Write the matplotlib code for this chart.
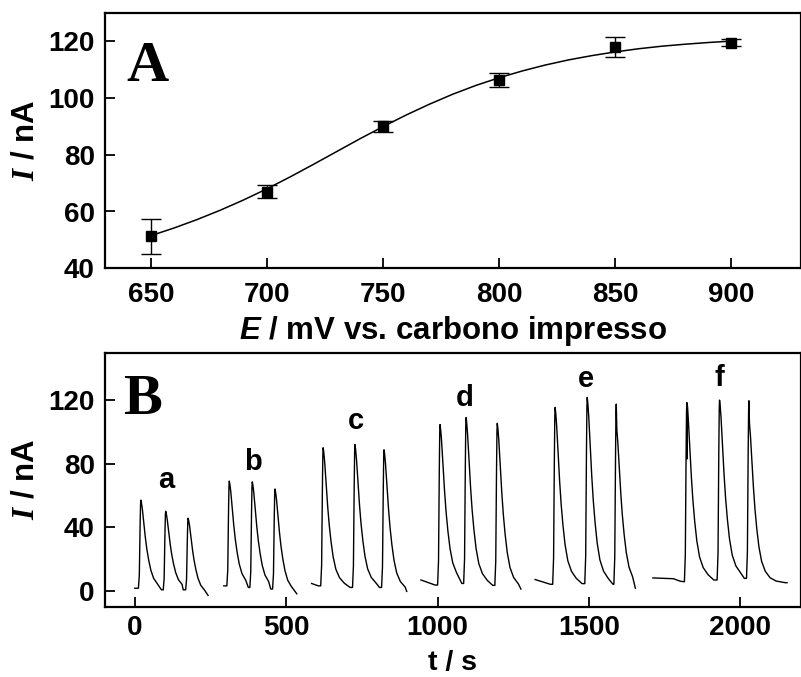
import matplotlib
matplotlib.use("Agg")
import matplotlib.pyplot as plt
import numpy as np

plt.rcParams['font.family'] = ['Liberation Sans', 'DejaVu Sans']
plt.rcParams['font.weight'] = 'bold'
plt.rcParams['mathtext.fontset'] = 'custom'
plt.rcParams['mathtext.it'] = 'Liberation Sans:italic:bold'
plt.rcParams['mathtext.bfit'] = 'Liberation Serif:italic:bold'
plt.rcParams['mathtext.rm'] = 'Liberation Sans:bold'

# ---------------- Panel A data ----------------
potential_mV = [650, 700, 750, 800, 850, 900]
current_nA = [51.2, 67.0, 90.0, 106.3, 118.0, 119.4]
current_err = [6.0, 2.4, 2.0, 2.5, 3.5, 1.3]

fit_E = [650, 660, 670, 680, 690, 700, 710, 720, 730, 740, 750, 760, 770,
         780, 790, 800, 810, 820, 830, 840, 850, 860, 870, 880, 890, 900]
fit_I = [51.5, 54.2, 57.2, 60.5, 64.1, 68.0, 72.2, 76.6, 81.1, 85.6, 89.9,
         94.0, 97.8, 101.3, 104.4, 107.1, 109.5, 111.6, 113.4, 114.9, 116.2,
         117.3, 118.2, 118.9, 119.5, 120.0]

xticks_A = [650, 700, 750, 800, 850, 900]
yticks_A = [40, 60, 80, 100, 120]

# ---------------- Panel B data ----------------
seg_labels = ['a', 'b', 'c', 'd', 'e', 'f']
label_t = [104, 389, 731, 1089, 1491, 1929]
label_I = [64.4, 75.8, 102, 116.4, 128, 129]

# leading baseline points of each segment (t, I)
seg_lead_t = [[0, 6], [294, 304], [584, 606, 613], [945, 992, 999],
              [1322, 1372, 1379], [1711, 1779, 1800, 1813]]
seg_lead_I = [[1.5, 1.5], [3, 3], [4.5, 3, 3], [6.7, 3.5, 3.5],
              [7, 4, 4], [8, 7.5, 6, 5.6]]
# peaks (time, height) and valley/end after each peak (time, level)
peak_t = [[20, 102, 176], [312, 388, 463], [622, 727, 823],
          [1008, 1094, 1197], [1388, 1494, 1590], [1823, 1931, 2028]]
peak_I = [[57, 50, 45.6], [69, 68.5, 64], [90, 92, 88.7],
          [104.6, 109, 105.4], [115.4, 121.7, 117.5], [118.5, 120, 119.6]]
valley_t = [[88, 160, 242], [375, 449, 535], [711, 808, 898],
            [1080, 1182, 1275], [1477, 1579, 1653], [1912, 2013, 2154]]
valley_I = [[0.5, 0.5, -3], [2, 1, -2], [2, 2, -0.5],
            [4.5, 3.3, 1], [4.4, 4, 1.5], [6.7, 7.7, 5]]
# level right after a sharp spike at the top (None = no spike)
spike_after = [[None, None, None], [None, None, None], [None, None, None],
               [None, None, None], [None, None, 104], [None, None, 108]]
# notch dip inside the peak top (None = no notch)
notch_I = [[None, None, None], [None, None, None], [None, None, None],
           [None, None, None], [None, None, None], [83, None, None]]

xticks_B = [0, 500, 1000, 1500, 2000]
yticks_B = [0, 40, 80, 120]

# transient shape (relative decay profile)
rise_dt = [-8, -5, -2.5, -1, 0]
rise_fr = [0.0, 0.15, 0.7, 0.95, 1.0]
decay_dt = [2, 5, 10, 15, 20, 26, 33, 42, 54, 70, 90, 120]
decay_fr = [0.97, 0.9, 0.74, 0.58, 0.45, 0.33, 0.22, 0.13, 0.07, 0.03, 0.01, 0.0]


def build_segment(i):
    ts = list(seg_lead_t[i])
    ys = list(seg_lead_I[i])
    base = ys[-1]
    for k in range(len(peak_t[i])):
        tp, h = peak_t[i][k], peak_I[i][k]
        te, be = valley_t[i][k], valley_I[i][k]
        for dt, fr in zip(rise_dt, rise_fr):
            t = tp + dt
            if t > ts[-1]:
                ts.append(t)
                ys.append(base + (h - base) * fr)
        top = h
        if notch_I[i][k] is not None:
            ts += [tp + 0.6, tp + 1.2, tp + 2.5]
            ys += [notch_I[i][k], h - 1, h - 3]
        if spike_after[i][k] is not None:
            ts.append(tp + 1.5)
            ys.append(spike_after[i][k])
            top = spike_after[i][k]
        for dt, fr in zip(decay_dt, decay_fr):
            t = tp + dt
            if t < te - 2 and t > ts[-1]:
                ts.append(t)
                ys.append(be + (top - be) * fr)
        ts.append(te)
        ys.append(be)
        base = be
    return ts, ys


W, H = 801, 677
fig = plt.figure(figsize=(W / 100, H / 100), dpi=100)

left = 104.5 / W
width = 1.0 - left
axA = fig.add_axes([left, 1 - 268.3 / H, width, (268.3 - 12.7) / H])
axB = fig.add_axes([left, 1 - 606.5 / H, width, (606.5 - 352.5) / H])

TICK_FS = 20
LAB_FS = 22.5

for ax in (axA, axB):
    for s in ax.spines.values():
        s.set_linewidth(1.6)
    ax.tick_params(direction='in', length=7, width=1.3, labelsize=TICK_FS,
                   top=False, right=False)
    ax.tick_params(axis='x', pad=10)
    ax.tick_params(axis='y', pad=7)
axB.tick_params(axis='x', pad=6)

# Panel A
axA.plot(fit_E, fit_I, color='black', lw=1.1)
axA.errorbar(potential_mV, current_nA, yerr=current_err, fmt='s', color='black',
             ms=7.5, capsize=7, elinewidth=1.0, capthick=1.0, ecolor='black')
axA.set_xlim(630, 930)
axA.set_ylim(40, 130)
axA.set_xticks(xticks_A)
axA.set_yticks(yticks_A)
axA.set_xticklabels([str(v) for v in xticks_A], fontweight='bold')
axA.set_yticklabels([str(v) for v in yticks_A], fontweight='bold')
axA.set_xlabel(r'$\mathit{E}$ / mV vs. carbono impresso', fontsize=LAB_FS,
               fontweight='bold', labelpad=4)
axA.set_ylabel(r'$\mathbfit{I}$ / nA', fontsize=LAB_FS, fontweight='bold', labelpad=6)
axA.text(126 / W, 1 - 81 / H, 'A', transform=fig.transFigure, fontsize=42,
         family='Liberation Serif', fontweight='bold', va='baseline', ha='left')

# Panel B
for i in range(len(seg_labels)):
    ts, ys = build_segment(i)
    axB.plot(ts, ys, color='black', lw=1.0)
    axB.text(label_t[i], label_I[i], seg_labels[i], fontsize=21, fontweight='bold',
             ha='center', va='baseline')
axB.set_xlim(-100, 2200)
axB.set_ylim(-10, 150)
axB.set_xticks(xticks_B)
axB.set_yticks(yticks_B)
axB.set_xticklabels([str(v) for v in xticks_B], fontweight='bold')
axB.set_yticklabels([str(v) for v in yticks_B], fontweight='bold')
xc = left + width * (0.5 * (axB.get_xlim()[0] + axB.get_xlim()[1]) - axB.get_xlim()[0]) / (axB.get_xlim()[1] - axB.get_xlim()[0])
fig.text(xc, 1.0 / H, 't / s', fontsize=20.5, fontweight='bold',
         ha='center', va='bottom')
axB.set_ylabel(r'$\mathbfit{I}$ / nA', fontsize=LAB_FS, fontweight='bold', labelpad=6)
axB.text(123 / W, 1 - 414 / H, 'B', transform=fig.transFigure, fontsize=42,
         family='Liberation Serif', fontweight='bold', va='baseline', ha='left')

fig.savefig('out.png', dpi=100)
